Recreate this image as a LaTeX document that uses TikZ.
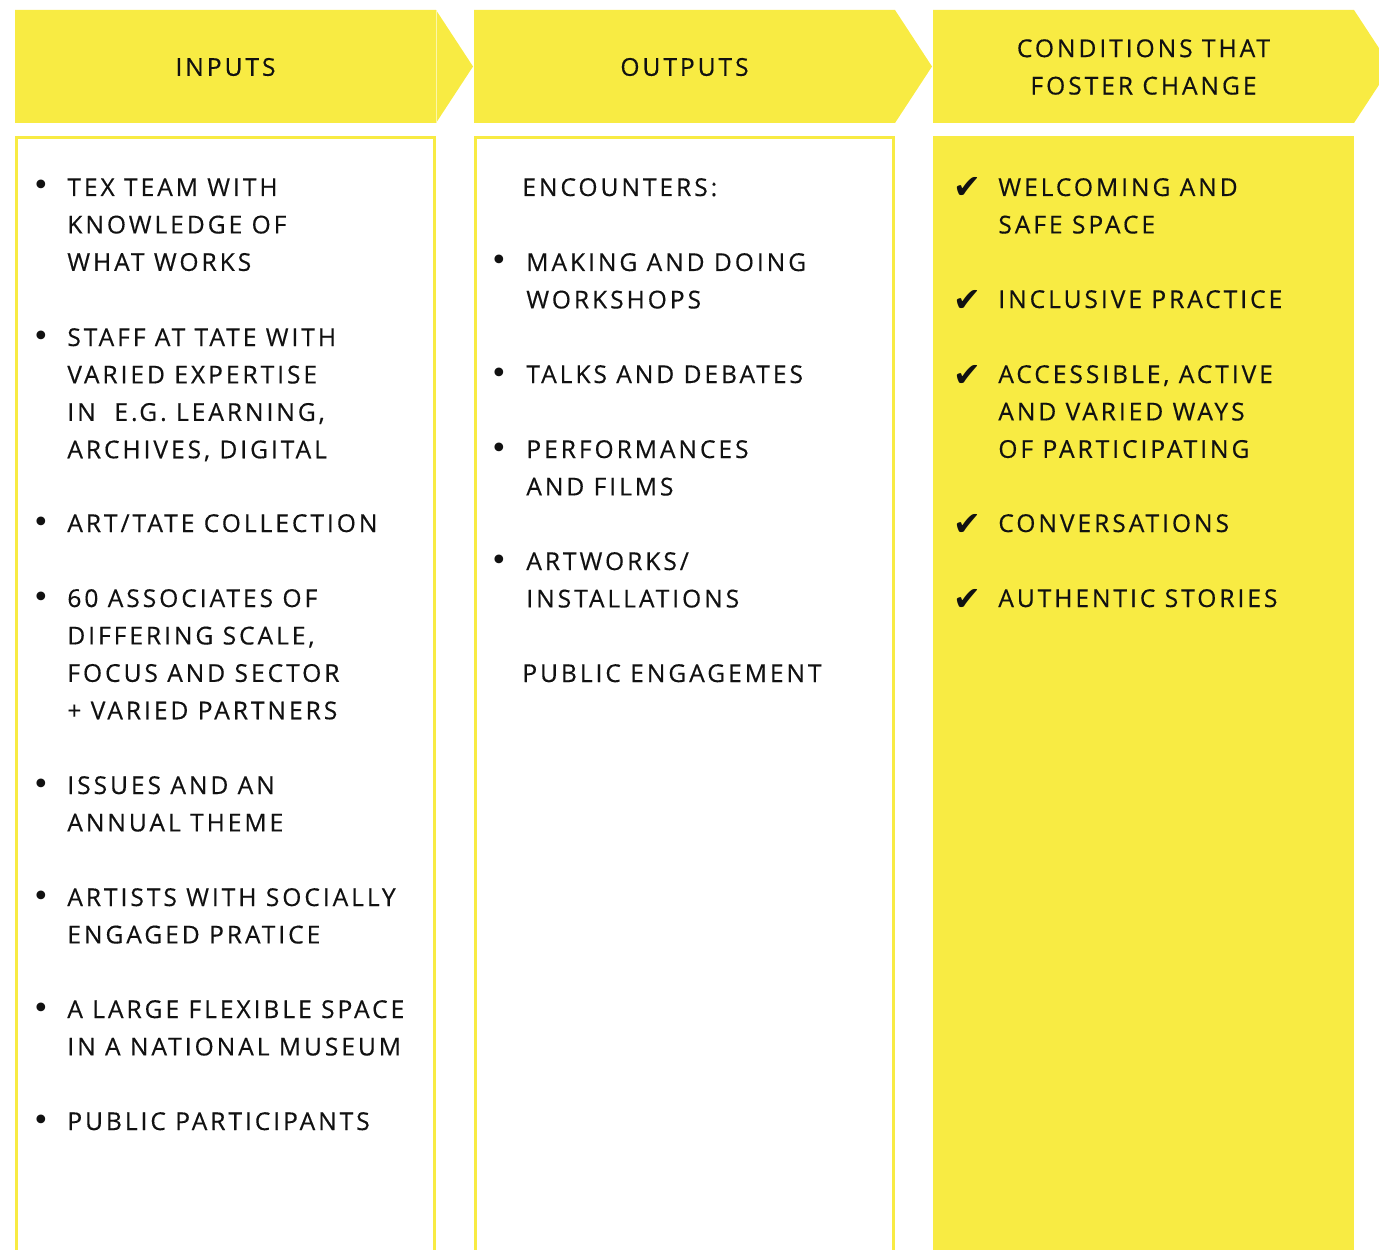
\documentclass[tikz,border=0pt]{standalone}
\usepackage{fontspec}
\setmainfont{Open Sans}
\newfontfamily\capsfont[LetterSpace=12, FakeBold=0.4]{Open Sans}
\newfontfamily\symfont{DejaVu Sans}
\usetikzlibrary{positioning}
\definecolor{tateyellow}{HTML}{F8EB43}
\definecolor{inkblack}{HTML}{111111}

% lines of an item, hung from the baseline of the first one
\newcommand{\itemlines}[1]{\begin{tabular}[t]{@{}l@{}}#1\end{tabular}}

\tikzset{
  header/.style={fill=tateyellow},
  headtext/.style={align=center, text=inkblack, inner sep=0pt,
    font=\capsfont\fontsize{14}{21.3}\selectfont},
  column/.style={draw=tateyellow, line width=1.7pt},
  item/.style={anchor=base west, text=inkblack, inner sep=0pt,
    font=\capsfont\fontsize{14}{21.3}\selectfont},
  bullet/.style={anchor=base, inner sep=0pt, text=inkblack,
    font=\symfont\fontsize{17}{21.3}\selectfont},
  tick/.style={anchor=base, inner sep=0pt, text=inkblack,
    font=\symfont\fontsize{19}{21.3}\selectfont},
}

\begin{document}
\begin{tikzpicture}[x=0.02cm, y=-0.02cm]
  \useasboundingbox (0,0) rectangle (1379,1250);
  \clip (0,0) rectangle (1379,1250);

  % arrow-shaped headers
  \foreach \x/\name/\txt in {15/inputs/INPUTS, 474/outputs/OUTPUTS,
      933/conditions/{CONDITIONS THAT\\FOSTER CHANGE}} {
    \fill[header] (\x,10) -- (\x+421,10) -- (\x+458,66.5) -- (\x+421,123) -- (\x,123) -- cycle;
    \node[headtext] (head-\name) at (\x+210.5,67) {\txt};
  }
  \draw[tateyellow!45!white, line width=0.4pt] (436,10) -- (436,123);

  % columns
  \draw[column] (16.5,137.5) rectangle (434.5,1280);
  \draw[column] (475.5,137.5) rectangle (893,1280);
  \fill[tateyellow] (933,136) rectangle (1354,1280);

  % inputs
  \foreach \y/\txt [count=\i] in {
      196/{TEX TEAM WITH\\KNOWLEDGE OF\\WHAT WORKS},
      346/{STAFF AT TATE WITH\\VARIED EXPERTISE\\IN~ E.G. LEARNING,\\ARCHIVES, DIGITAL},
      532/{ART/TATE COLLECTION},
      607/{60 ASSOCIATES OF\\DIFFERING SCALE,\\FOCUS AND SECTOR\\+ VARIED PARTNERS},
      794/{ISSUES AND AN\\ANNUAL THEME},
      906/{ARTISTS WITH SOCIALLY\\ENGAGED PRATICE},
      1018/{A LARGE FLEXIBLE SPACE\\IN A NATIONAL MUSEUM},
      1130/{PUBLIC PARTICIPANTS}} {
    \node[item] (in-\i) at (67,\y) {\itemlines{\txt}};
    \node[bullet] (in-dot-\i) at (41,\y) {•};
  }

  % outputs
  \node[item] (out-head) at (522,196) {ENCOUNTERS:};
  \foreach \y/\txt [count=\i] in {
      271/{MAKING AND DOING\\WORKSHOPS},
      383/{TALKS AND DEBATES},
      458/{PERFORMANCES\\AND FILMS},
      570/{ARTWORKS/\\INSTALLATIONS}} {
    \node[item] (out-\i) at (526,\y) {\itemlines{\txt}};
    \node[bullet] (out-dot-\i) at (499,\y) {•};
  }
  \node[item] (out-foot) at (522,682) {PUBLIC ENGAGEMENT};

  % conditions that foster change
  \foreach \y/\txt [count=\i] in {
      196/{WELCOMING AND\\SAFE SPACE},
      308/{INCLUSIVE PRACTICE},
      383/{ACCESSIBLE, ACTIVE\\AND VARIED WAYS\\OF PARTICIPATING},
      532/{CONVERSATIONS},
      607/{AUTHENTIC STORIES}} {
    \node[item] (cond-\i) at (998,\y) {\itemlines{\txt}};
    \node[tick] (cond-tick-\i) at (967,\y+3) {✔};
  }
\end{tikzpicture}
\end{document}
